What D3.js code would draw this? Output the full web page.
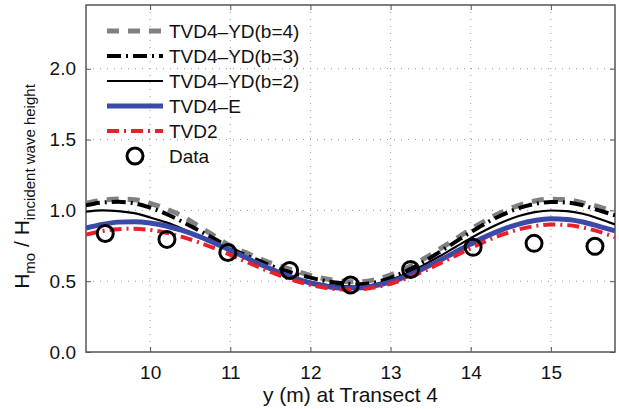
<!DOCTYPE html>
<html><head><meta charset="utf-8">
<script src="https://cdn.jsdelivr.net/npm/d3@7"></script>
<style>body{margin:0;background:#fff}svg{display:block}text{font-family:"Liberation Sans",Arial,sans-serif;fill:#111}</style>
</head><body>
<svg id="c" width="619" height="409"></svg>
<script>
const yPos = [9.2,9.4,9.6,9.8,10.0,10.2,10.4,10.6,10.8,11.0,11.2,11.4,11.6,11.8,12.0,12.2,12.4,12.6,12.8,13.0,13.2,13.4,13.6,13.8,14.0,14.2,14.4,14.6,14.8,15.0,15.2,15.4,15.6,15.8];
const b4 = [1.05,1.07,1.08,1.075,1.05,1.01,0.96,0.89,0.82,0.75,0.70,0.65,0.61,0.575,0.54,0.515,0.50,0.495,0.51,0.544,0.593,0.653,0.722,0.794,0.866,0.933,0.99,1.036,1.066,1.079,1.075,1.053,1.025,0.99];
const b3 = [1.035,1.055,1.06,1.05,1.02,0.975,0.92,0.86,0.80,0.735,0.68,0.635,0.59,0.555,0.525,0.50,0.485,0.478,0.49,0.524,0.573,0.633,0.702,0.774,0.846,0.913,0.97,1.016,1.046,1.059,1.055,1.035,1.0,0.965];
const b2 = [0.99,1.0,0.995,0.98,0.95,0.915,0.87,0.82,0.765,0.715,0.66,0.61,0.565,0.525,0.495,0.475,0.465,0.462,0.478,0.51,0.554,0.61,0.672,0.738,0.804,0.865,0.918,0.96,0.987,0.999,0.995,0.976,0.941,0.9];
const tvd4e = [0.875,0.901,0.917,0.92,0.911,0.89,0.858,0.818,0.77,0.719,0.665,0.612,0.564,0.521,0.487,0.464,0.452,0.452,0.467,0.495,0.536,0.586,0.643,0.703,0.762,0.818,0.866,0.903,0.928,0.94,0.936,0.918,0.887,0.855];
const tvd2 = [0.829,0.853,0.867,0.87,0.861,0.842,0.813,0.776,0.733,0.686,0.637,0.589,0.544,0.505,0.474,0.452,0.442,0.442,0.456,0.482,0.52,0.567,0.621,0.677,0.733,0.785,0.83,0.866,0.889,0.9,0.896,0.879,0.85,0.81];
const dataX = [9.44,10.21,10.97,11.74,12.5,13.25,14.03,14.79,15.55];
const dataY = [0.837,0.795,0.703,0.576,0.473,0.583,0.739,0.767,0.746];
const xTicks = [10,11,12,13,14,15];
const yTicks = [0,0.5,1.0,1.5,2.0];
const seriesNames = ["TVD4\u2013YD(b=4)","TVD4\u2013YD(b=3)","TVD4\u2013YD(b=2)","TVD4\u2013E","TVD2","Data"];

const svg = d3.select("#c");
const L=86,R=615,T=5,B=352;
const x = d3.scaleLinear().domain([9.2,15.8]).range([L,R]);
const y = d3.scaleLinear().domain([0,2.45]).range([B,T]);

svg.append("defs").append("clipPath").attr("id","clip").append("rect").attr("x",L).attr("y",T).attr("width",R-L).attr("height",B-T);

// grid
const grid = svg.append("g").attr("stroke","#9a9a9a").attr("stroke-width",1).attr("stroke-dasharray","1,6");
xTicks.forEach(t=>grid.append("line").attr("x1",x(t)).attr("x2",x(t)).attr("y1",T).attr("y2",B));
yTicks.filter(t=>t>0).forEach(t=>grid.append("line").attr("x1",L).attr("x2",R).attr("y1",y(t)).attr("y2",y(t)));

// axes with inside ticks
const axB = svg.append("g").attr("transform",`translate(0,${B})`).call(d3.axisBottom(x).tickValues(xTicks).tickFormat(d3.format("d")).tickSizeInner(-5).tickSizeOuter(0).tickPadding(14));
const axT = svg.append("g").attr("transform",`translate(0,${T})`).call(d3.axisTop(x).tickValues(xTicks).tickFormat("").tickSizeInner(-5).tickSizeOuter(0));
const axL = svg.append("g").attr("transform",`translate(${L},0)`).call(d3.axisLeft(y).tickValues(yTicks).tickFormat(d3.format(".1f")).tickSizeInner(-5).tickSizeOuter(0).tickPadding(10));
const axR = svg.append("g").attr("transform",`translate(${R},0)`).call(d3.axisRight(y).tickValues(yTicks).tickFormat("").tickSizeInner(-5).tickSizeOuter(0));
[axB,axT,axL,axR].forEach(a=>{a.select(".domain").remove();a.selectAll("line").attr("stroke","#555");a.selectAll("text").attr("font-size",19).attr("font-family","Liberation Sans, Arial, sans-serif").attr("fill","#111");});
svg.append("rect").attr("x",L).attr("y",T).attr("width",R-L).attr("height",B-T).attr("fill","none").attr("stroke","#555").attr("stroke-width",1.5);

// lines
const styles = [
 {v:b4, c:"#808080", w:5, d:"12,9"},
 {v:b3, c:"#000", w:4, d:"14,5,2,5"},
 {v:b2, c:"#000", w:2.2, d:null},
 {v:tvd4e, c:"#3b4aa8", w:5, d:null},
 {v:tvd2, c:"#e8202a", w:4, d:"12,5,2,5"}
];
const line = d3.line().x((d,i)=>x(yPos[i])).y(d=>y(d)).curve(d3.curveMonotoneX);
const pg = svg.append("g").attr("clip-path","url(#clip)");
styles.forEach(s=>{
  pg.append("path").attr("d",line(s.v)).attr("fill","none").attr("stroke",s.c).attr("stroke-width",s.w).attr("stroke-dasharray",s.d);
});
pg.selectAll("circle.d").data(dataY).join("circle").attr("cx",(d,i)=>x(dataX[i])).attr("cy",d=>y(d)).attr("r",8).attr("fill","none").attr("stroke","#000").attr("stroke-width",3);

// legend
const lg = svg.append("g");
const ly0=31, ldy=25, lx1=107, lx2=163;
seriesNames.forEach((n,i)=>{
  const yy = ly0+i*ldy;
  if(i<5){
    const s=styles[i];
    lg.append("line").attr("x1",lx1).attr("x2",lx2).attr("y1",yy).attr("y2",yy).attr("stroke",s.c).attr("stroke-width",s.w).attr("stroke-dasharray",s.d);
  } else {
    lg.append("circle").attr("cx",(lx1+lx2)/2).attr("cy",yy).attr("r",8).attr("fill","none").attr("stroke","#000").attr("stroke-width",3);
  }
  lg.append("text").attr("x",lx2+6).attr("y",yy+7).attr("font-size",19).text(n);
});

// axis labels
svg.append("text").attr("x",(L+R)/2).attr("y",402).attr("text-anchor","middle").attr("font-size",21).text("y (m) at Transect 4");
const yl = svg.append("text").attr("transform",`translate(29,${(T+B)/2+8}) rotate(-90)`).attr("text-anchor","middle").attr("font-size",21);
yl.append("tspan").text("H");
yl.append("tspan").attr("font-size",15).attr("dy",6).text("mo");
yl.append("tspan").attr("dy",-6).text(" / H");
yl.append("tspan").attr("font-size",15).attr("dy",6).text("incident wave height");
</script>
</body></html>
